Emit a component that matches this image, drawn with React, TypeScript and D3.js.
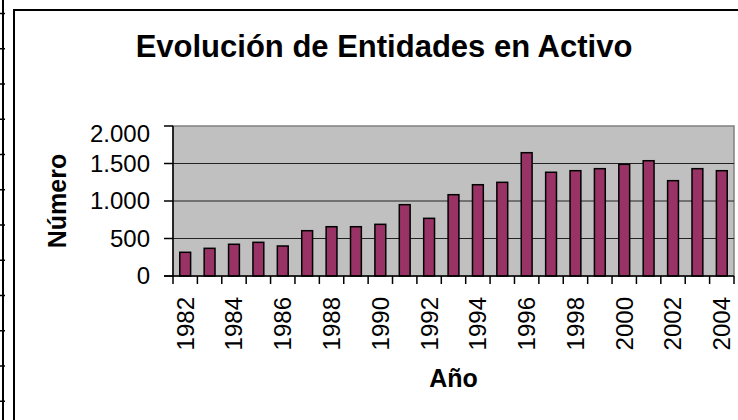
import React, { useRef, useEffect } from "react";
import * as d3 from "d3";

const years = [
  1982, 1983, 1984, 1985, 1986, 1987, 1988, 1989, 1990, 1991, 1992, 1993,
  1994, 1995, 1996, 1997, 1998, 1999, 2000, 2001, 2002, 2003, 2004,
];
const entidades = [
  316, 369, 423, 449, 400, 604, 657, 657, 689, 951, 769, 1084, 1217, 1249,
  1644, 1383, 1404, 1431, 1489, 1537, 1271, 1431, 1404,
];
const yTicks = [0, 500, 1000, 1500, 2000];
const fmt = (v: number) => d3.format(",")(v).replace(/,/g, ".");

export default function App() {
  const svgRef = useRef<SVGSVGElement>(null);

  useEffect(() => {
    const svg = d3.select(svgRef.current);
    svg.selectAll("*").remove();

    const width = 738;
    const height = 420;
    const font = "'Liberation Sans', Arial, sans-serif";
    const plot = { left: 173, top: 126, right: 734, bottom: 276 };

    // spreadsheet cell edges at the left border
    svg
      .append("line")
      .attr("x1", 3)
      .attr("x2", 3)
      .attr("y1", 0)
      .attr("y2", height)
      .attr("stroke", "#000")
      .attr("stroke-width", 2);
    svg
      .selectAll(".cell")
      .data(d3.range(12))
      .enter()
      .append("line")
      .attr("x1", 0)
      .attr("x2", 5)
      .attr("y1", (i) => 13.5 + i * 35.25)
      .attr("y2", (i) => 13.5 + i * 35.25)
      .attr("stroke", "#000")
      .attr("stroke-width", 1.5);

    // chart frame
    svg
      .append("rect")
      .attr("x", 14)
      .attr("y", 10)
      .attr("width", width)
      .attr("height", height)
      .attr("fill", "#fff")
      .attr("stroke", "#000")
      .attr("stroke-width", 2);

    const x = d3
      .scaleBand<number>()
      .domain(years)
      .range([plot.left, plot.right])
      .padding(0);
    const y = d3
      .scaleLinear()
      .domain([0, 2000])
      .range([plot.bottom, plot.top]);

    // plot area
    svg
      .append("rect")
      .attr("x", plot.left)
      .attr("y", plot.top)
      .attr("width", plot.right - plot.left)
      .attr("height", plot.bottom - plot.top)
      .attr("fill", "#c0c0c0")
      .attr("stroke", "#808080")
      .attr("stroke-width", 1.5);

    // gridlines
    svg
      .selectAll(".grid")
      .data(yTicks.filter((t) => t > 0 && t < 2000))
      .enter()
      .append("line")
      .attr("x1", plot.left)
      .attr("x2", plot.right)
      .attr("y1", (d) => y(d))
      .attr("y2", (d) => y(d))
      .attr("stroke", "#222")
      .attr("stroke-width", 1);

    // bars
    const bw = x.bandwidth() / 2.25;
    svg
      .selectAll(".bar")
      .data(entidades)
      .enter()
      .append("rect")
      .attr("x", (d, i) => x(years[i])! + x.bandwidth() / 2 - bw / 2)
      .attr("y", (d) => y(d))
      .attr("width", bw)
      .attr("height", (d) => y(0) - y(d))
      .attr("fill", "#993366")
      .attr("stroke", "#000")
      .attr("stroke-width", 1.5);

    // y axis
    svg
      .append("line")
      .attr("x1", plot.left)
      .attr("x2", plot.left)
      .attr("y1", plot.top)
      .attr("y2", plot.bottom)
      .attr("stroke", "#000")
      .attr("stroke-width", 1.5);
    svg
      .selectAll(".ytick")
      .data(yTicks)
      .enter()
      .append("line")
      .attr("x1", plot.left - 9)
      .attr("x2", plot.left)
      .attr("y1", (d) => y(d))
      .attr("y2", (d) => y(d))
      .attr("stroke", "#000")
      .attr("stroke-width", 1.5);
    svg
      .selectAll(".ylabel")
      .data(yTicks)
      .enter()
      .append("text")
      .attr("x", 150)
      .attr("y", (d) => y(d) + (d === 2000 ? 8 : 0))
      .attr("dy", "0.35em")
      .attr("text-anchor", "end")
      .style("font-family", font)
      .style("font-size", "24px")
      .attr("fill", "#000")
      .text((d) => fmt(d));

    // x axis
    svg
      .append("line")
      .attr("x1", plot.left - 9)
      .attr("x2", plot.right)
      .attr("y1", plot.bottom)
      .attr("y2", plot.bottom)
      .attr("stroke", "#000")
      .attr("stroke-width", 1.5);
    svg
      .selectAll(".xtick")
      .data([...years.map((yr) => x(yr)!), plot.right])
      .enter()
      .append("line")
      .attr("x1", (d) => d)
      .attr("x2", (d) => d)
      .attr("y1", plot.bottom)
      .attr("y2", plot.bottom + 8)
      .attr("stroke", "#000")
      .attr("stroke-width", 1.5);
    svg
      .selectAll(".xlabel")
      .data(years.filter((yr) => yr % 2 === 0))
      .enter()
      .append("text")
      .attr(
        "transform",
        (d) => `translate(${x(d)! + x.bandwidth() / 2},297) rotate(-90)`
      )
      .attr("dy", "0.35em")
      .attr("text-anchor", "end")
      .style("font-family", font)
      .style("font-size", "24px")
      .attr("fill", "#000")
      .text((d) => d);

    // titles
    svg
      .append("text")
      .attr("x", 384)
      .attr("y", 57)
      .attr("text-anchor", "middle")
      .style("font-family", font)
      .style("font-size", "31px")
      .style("font-weight", "bold")
      .text("Evolución de Entidades en Activo");

    svg
      .append("text")
      .attr("transform", `translate(66,201) rotate(-90)`)
      .attr("text-anchor", "middle")
      .style("font-family", font)
      .style("font-size", "25px")
      .style("font-weight", "bold")
      .text("Número");

    svg
      .append("text")
      .attr("x", (plot.left + plot.right) / 2)
      .attr("y", 387)
      .attr("text-anchor", "middle")
      .style("font-family", font)
      .style("font-size", "25px")
      .style("font-weight", "bold")
      .text("Año");
  }, []);

  return (
    <svg
      ref={svgRef}
      width={738}
      height={420}
      style={{ position: "absolute", left: 0, top: 0, background: "#fff" }}
    ></svg>
  );
}
